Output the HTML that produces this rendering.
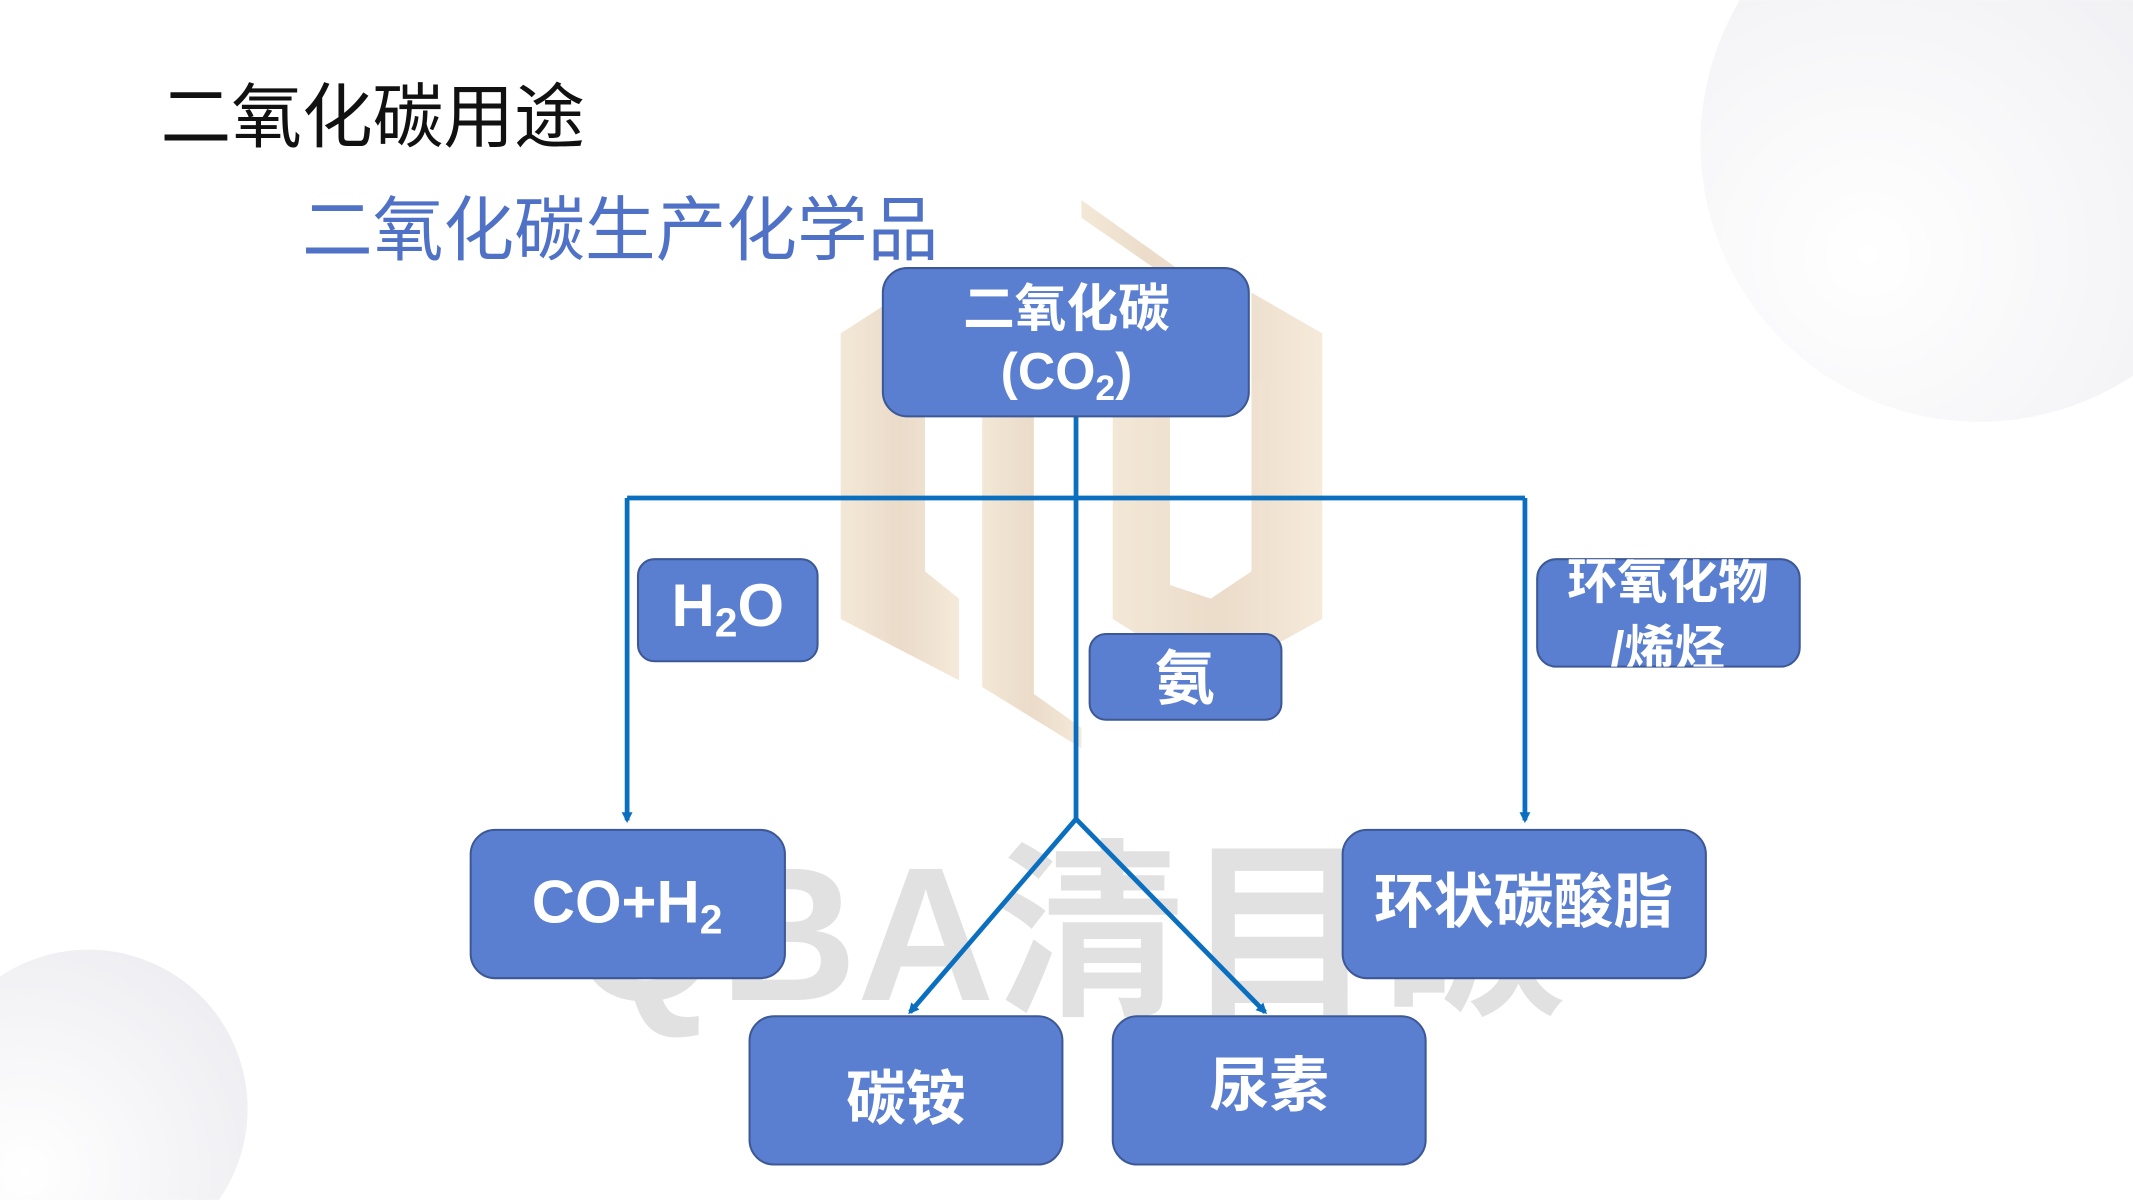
<!DOCTYPE html>
<html><head><meta charset="utf-8"><style>
html,body{margin:0;padding:0;background:#fff;overflow:hidden;width:2133px;height:1200px}
svg{display:block;overflow:hidden}
text{font-family:"Liberation Sans","Noto Sans CJK SC",sans-serif}
.b{font-weight:bold;fill:#fff}
</style></head><body>
<svg width="2133" height="1200" viewBox="0 0 1568 882" xmlns="http://www.w3.org/2000/svg">
<defs>
<radialGradient id="g1" cx="0.3" cy="0.7" r="0.8"><stop offset="0" stop-color="#ffffff"/><stop offset="1" stop-color="#eeeef2"/></radialGradient>
<linearGradient id="bg" x1="0" y1="0" x2="1" y2="0"><stop offset="0" stop-color="#f1e4d0"/><stop offset="0.5" stop-color="#e8d5c0"/><stop offset="1" stop-color="#f4e6d3"/></linearGradient>
<marker id="ar" markerWidth="8" markerHeight="8" refX="6" refY="4" orient="auto" markerUnits="userSpaceOnUse"><path d="M0,0 L8,4 L0,8 z" fill="#0b6fbf"/></marker>
<clipPath id="cp"><rect x="1130" y="411" width="193" height="79" rx="14"/></clipPath>
<clipPath id="all"><rect x="0" y="0" width="1568" height="882"/></clipPath>
</defs>
<g clip-path="url(#all)">
<circle cx="1455" cy="105" r="205" fill="url(#g1)"/>
<circle cx="65" cy="815" r="117" fill="url(#g1)"/>
<g fill="url(#bg)" opacity="0.85">
<polygon points="795,147 900,222 900,268 860,240 860,205 795,160"/>
<polygon points="618,245 680,205 680,420 705,440 705,500 618,455"/>
<polygon points="722,285 760,260 760,510 795,535 795,550 722,505"/>
<polygon points="818,270 860,245 860,430 890,440 920,420 920,215 972,245 972,455 890,500 818,455"/>
</g>
<text x="420" y="735" font-size="140" font-weight="bold" fill="#dcdcdc" opacity="0.85">QBA清目碳</text>
<text x="118" y="104" font-size="52" fill="#111">二氧化碳用途</text>
<text x="222" y="187" font-size="52" fill="#4f72c6">二氧化碳生产化学品</text>
<g stroke="#0b6fbf" stroke-width="3.5" fill="none">
<line x1="791" y1="306" x2="791" y2="602"/>
<line x1="461" y1="366" x2="1121" y2="366"/>
<line x1="461" y1="366" x2="461" y2="603" marker-end="url(#ar)"/>
<line x1="1121" y1="366" x2="1121" y2="603" marker-end="url(#ar)"/>
<line x1="791" y1="602" x2="669" y2="744" marker-end="url(#ar)"/>
<line x1="791" y1="602" x2="930" y2="744" marker-end="url(#ar)"/>
</g>
<g fill="#5a7fd0" stroke="#3d5896" stroke-width="1.5">
<rect x="649" y="197" width="269" height="109" rx="18"/>
<rect x="469" y="411" width="132" height="75" rx="12"/>
<rect x="801" y="466" width="141" height="63" rx="12"/>
<rect x="1130" y="411" width="193" height="79" rx="14"/>
<rect x="346" y="610" width="231" height="109" rx="18"/>
<rect x="987" y="610" width="267" height="109" rx="18"/>
<rect x="551" y="747" width="230" height="109" rx="18"/>
<rect x="818" y="747" width="230" height="109" rx="18"/>
</g>
<text class="b" x="784" y="240" font-size="38" text-anchor="middle">二氧化碳</text>
<text class="b" x="784" y="286" font-size="38" text-anchor="middle">(CO<tspan font-size="26" dy="8">2</tspan><tspan dy="-8">)</tspan></text>
<text class="b" x="535" y="460" font-size="44" text-anchor="middle">H<tspan font-size="30" dy="8">2</tspan><tspan dy="-8">O</tspan></text>
<text class="b" x="871" y="514" font-size="44" text-anchor="middle">氨</text>
<g clip-path="url(#cp)">
<text class="b" x="1226" y="440" font-size="37" text-anchor="middle">环氧化物</text>
<text class="b" x="1226" y="490" font-size="37" text-anchor="middle">/烯烃</text>
</g>
<text class="b" x="461" y="678" font-size="44" text-anchor="middle">CO+H<tspan font-size="30" dy="8">2</tspan></text>
<text class="b" x="1120" y="678" font-size="44" text-anchor="middle">环状碳酸脂</text>
<text class="b" x="666" y="823" font-size="44" text-anchor="middle">碳铵</text>
<text class="b" x="933" y="813" font-size="44" text-anchor="middle">尿素</text>
</g>
</svg>
</body></html>
